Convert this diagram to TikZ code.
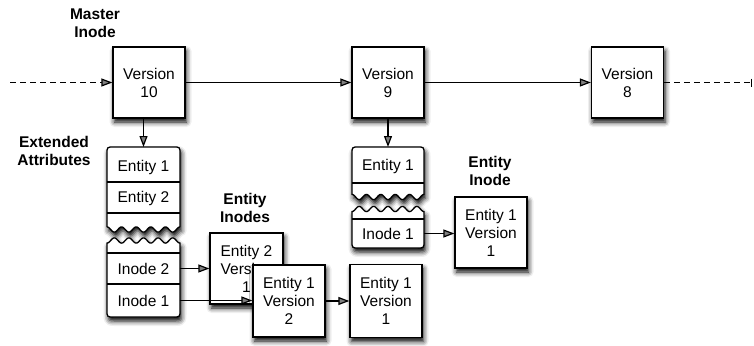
\documentclass[tikz,border=0pt]{standalone}
\usepackage{fontspec}
\setmainfont{Liberation Sans}
\usetikzlibrary{arrows.meta,shadows.blur}
\begin{document}
\begin{tikzpicture}[x=1pt,y=-1pt,
  txt/.style={font=\fontsize{15.5}{18}\selectfont, align=center},
  lbl/.style={font=\bfseries\fontsize{15.5}{18.5}\selectfont, align=center},
  shad/.style={blur shadow={shadow xshift=1.5pt, shadow yshift=-4pt, shadow blur radius=5pt, shadow opacity=100}},
  vbox/.style={txt, draw, line width=1.3pt, fill=white, shad, minimum width=72pt, minimum height=71pt, inner sep=0pt},
  piece/.style={draw, line width=1.3pt, fill=white, shad},
  sep/.style={line width=1.1pt},
  row/.style={txt, minimum width=72pt, inner sep=0pt},
  conn/.style={line width=1.2pt, -{Triangle[length=11pt,width=8pt]}},
  dconn/.style={line width=1.2pt, dash pattern=on 6pt off 4pt},
]
\useasboundingbox (0,0) rectangle (754,345);

% version boxes
\node[vbox] (v10) at (149,82.5) {Version\\10};
\node[vbox] (v9) at (388,82.5) {Version\\9};
\node[vbox] (v8) at (627.5,82.5) {Version\\8};

% extended attributes stack (version 10)
\draw[piece] (107,227) -- (107,154) .. controls (107,147) .. (114,147) -- (173,147) .. controls (180,147) .. (180,154) -- (180,227)
  -- plot[domain=180:107, samples=120, smooth] (\x,{229.5-2.6*cos((\x-107)*24.6575)}) -- cycle;
\draw[sep] (107,182) -- (180,182);
\draw[sep] (107,213) -- (180,213);
\draw[piece] plot[domain=107:180, samples=120, smooth] (\x,{240.5+2.6*cos((\x-107)*24.6575)})
  -- (180,310) .. controls (180,317) .. (173,317) -- (114,317) .. controls (107,317) .. (107,310) -- cycle;
\draw[sep] (107,253) -- (180,253);
\draw[sep] (107,284) -- (180,284);
\coordinate (s1top) at (143.5,147);
\node[row] (ea1) at (143.5,167) {Entity 1};
\node[row] (ea2) at (143.5,198.5) {Entity 2};
\node[row, minimum height=31pt] (ein2) at (143.5,268.5) {Inode 2};
\node[row, minimum height=33pt] (ein1) at (143.5,300.5) {Inode 1};

% extended attributes stack (version 9)
\draw[piece] (352,194) -- (352,154) .. controls (352,147) .. (359,147) -- (417,147) .. controls (424,147) .. (424,154) -- (424,194)
  -- plot[domain=424:352, samples=120, smooth] (\x,{197-2.6*cos((\x-352)*25)}) -- cycle;
\draw[sep] (352,183) -- (424,183);
\draw[piece] plot[domain=352:424, samples=120, smooth] (\x,{209+2.6*cos((\x-352)*25)})
  -- (424,241) .. controls (424,248) .. (417,248) -- (359,248) .. controls (352,248) .. (352,241) -- cycle;
\draw[sep] (352,219) -- (424,219);
\coordinate (s2top) at (388,147);
\node[row] (sb1) at (388,166) {Entity 1};
\node[row, minimum height=29pt] (sbi) at (388,233.5) {Inode 1};

% entity inode boxes
\node[vbox, minimum width=73pt] (e2v1) at (246.5,268.5) {Entity 2\\Version\\1};
\node[vbox, minimum height=72pt] (e1v2) at (289,301) {Entity 1\\Version\\2};
\node[vbox, minimum height=73pt] (e1v1) at (386,301) {Entity 1\\Version\\1};
\node[vbox] (ei) at (491,232.5) {Entity 1\\Version\\1};

% labels
\node[lbl] (lm) at (95,23) {Master\\Inode};
\node[lbl] (lx) at (54,151) {Extended\\Attributes};
\node[lbl] (lei) at (245,208) {Entity\\Inodes};
\node[lbl] (lein) at (490,171) {Entity\\Inode};

% connectors
\coordinate (ls) at (10,82.5);
\coordinate (re) at (752,82.5);
\draw[dconn, -{Triangle[length=11pt,width=8pt]}] (ls) -- (v10.west);
\draw[conn] (v10.east) -- (v9.west);
\draw[conn] (v9.east) -- (v8.west);
\draw[dconn, -{Bar[width=8pt]}] (v8.east) -- (re);
\draw[conn] (v10.south -| s1top) -- (s1top);
\draw[conn] (v9.south -| s2top) -- (s2top);
\draw[conn] (ein2.east) -- (ein2.east -| e2v1.west);
\draw[conn] (ein1.east) -- (ein1.east -| e1v2.west);
\draw[conn] (e1v2.east) -- (e1v1.west);
\draw[conn] (sbi.east) -- (sbi.east -| ei.west);
\end{tikzpicture}
\end{document}
